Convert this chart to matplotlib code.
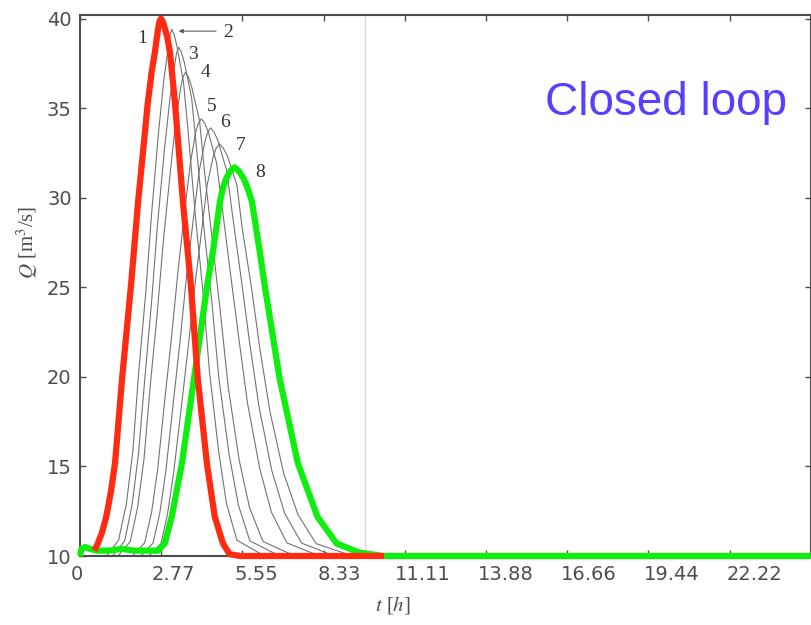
import matplotlib
matplotlib.use('Agg')
import matplotlib.pyplot as plt
from matplotlib.transforms import ScaledTranslation, blended_transform_factory

# Red: curve 1, green: curve 8
t_red = [0.49, 0.61, 0.75, 0.90, 1.06, 1.20, 1.44, 1.75, 1.99, 2.32, 2.45, 2.56, 2.67, 2.72, 2.77,
         2.83, 2.88, 2.98, 3.08, 3.25, 3.52, 3.79, 4.03, 4.34, 4.61, 4.89, 5.12, 5.48, 10.4]
q_red = [10.3, 10.7, 11.3, 12.2, 13.6, 15.2, 19.9, 25.2, 29.8, 35.3, 37.0, 38.1, 39.4, 39.85, 40.0,
         39.85, 39.6, 39.0, 38.1, 35.3, 29.8, 25.2, 19.9, 15.2, 12.2, 10.7, 10.1, 10.0, 10.0]

t_green = [0, 0.05, 0.18, 0.33, 0.59, 1.01, 1.43, 1.84, 2.26, 2.67, 2.90, 3.14, 3.49, 3.90, 4.36,
           4.55, 4.79, 4.90, 5.01, 5.15, 5.29, 5.43, 5.59, 5.72, 5.88, 6.15, 6.31, 6.83, 7.45, 8.12,
           8.78, 9.54, 10.37, 25]
q_green = [10.0, 10.4, 10.5, 10.4, 10.3, 10.3, 10.4, 10.3, 10.3, 10.3, 10.7, 12.2, 15.2, 19.9, 25.2,
           27.0, 29.8, 30.6, 31.1, 31.5, 31.7, 31.5, 31.1, 30.6, 29.8, 27.0, 25.2, 19.9, 15.2, 12.2,
           10.7, 10.2, 10.0, 10.0]

# Gray curves 2..7
t_c2 = [0, 0.91, 1.32, 1.59, 1.81, 2.01, 2.25, 2.45, 2.68, 2.86, 3.03, 3.08, 3.14, 3.22, 3.31, 3.54,
        3.71, 3.94, 4.21, 4.43, 4.74, 5.01, 5.37, 6.31, 25]
q_c2 = [10.0, 10.0, 10.88, 12.94, 15.88, 20.29, 24.7, 29.11, 33.52, 36.46, 38.52, 39.11, 39.4, 39.11,
        38.52, 36.46, 33.52, 29.11, 24.7, 20.29, 15.88, 12.94, 10.88, 10.0, 10.0]
t_c3 = [0, 1.11, 1.53, 1.78, 2.00, 2.22, 2.45, 2.65, 2.89, 3.08, 3.25, 3.31, 3.38, 3.47, 3.57, 3.82,
        3.99, 4.23, 4.51, 4.75, 5.10, 5.42, 5.81, 6.83, 25]
q_c3 = [10.0, 10.0, 10.85, 12.84, 15.68, 19.94, 24.2, 28.46, 32.72, 35.56, 37.55, 38.12, 38.4, 38.12,
        37.55, 35.56, 32.72, 28.46, 24.2, 19.94, 15.68, 12.84, 10.85, 10.0, 10.0]
t_c4 = [0, 1.30, 1.72, 1.97, 2.19, 2.40, 2.64, 2.85, 3.10, 3.28, 3.45, 3.52, 3.61, 3.71, 3.82, 4.09,
        4.25, 4.53, 4.81, 5.07, 5.44, 5.80, 6.26, 7.35, 25]
q_c4 = [10.0, 10.0, 10.81, 12.7, 15.4, 19.45, 23.5, 27.55, 31.6, 34.3, 36.19, 36.73, 37.0, 36.73,
        36.19, 34.3, 31.6, 27.55, 23.5, 19.45, 15.4, 12.7, 10.81, 10.0, 10.0]
t_c5 = [0, 1.79, 2.21, 2.45, 2.66, 2.89, 3.13, 3.35, 3.60, 3.78, 3.96, 4.05, 4.15, 4.27, 4.39, 4.67,
        4.86, 5.14, 5.43, 5.73, 6.15, 6.55, 7.08, 8.19, 25]
q_c5 = [10.0, 10.0, 10.73, 12.44, 14.88, 18.54, 22.2, 25.86, 29.52, 31.96, 33.67, 34.16, 34.4, 34.16,
        33.67, 31.96, 29.52, 25.86, 22.2, 18.54, 14.88, 12.44, 10.73, 10.0, 10.0]
t_c6 = [0, 2.08, 2.50, 2.73, 2.94, 3.18, 3.42, 3.64, 3.90, 4.08, 4.28, 4.37, 4.47, 4.59, 4.72, 5.02,
        5.21, 5.51, 5.80, 6.12, 6.56, 7.00, 7.58, 8.71, 25]
q_c6 = [10.0, 10.0, 10.72, 12.39, 14.78, 18.37, 21.95, 25.54, 29.12, 31.51, 33.18, 33.66, 33.9, 33.66,
        33.18, 31.51, 29.12, 25.54, 21.95, 18.37, 14.78, 12.39, 10.72, 10.0, 10.0]
t_c7 = [0, 2.35, 2.77, 2.99, 3.20, 3.45, 3.69, 3.92, 4.18, 4.35, 4.56, 4.66, 4.77, 4.90, 5.05, 5.37,
        5.54, 5.87, 6.16, 6.50, 6.97, 7.46, 8.08, 9.33, 25]
q_c7 = [10.0, 10.0, 10.69, 12.3, 14.6, 18.05, 21.5, 24.95, 28.4, 30.7, 32.31, 32.77, 33.0, 32.77,
        32.31, 30.7, 28.4, 24.95, 21.5, 18.05, 14.6, 12.3, 10.69, 10.0, 10.0]

# Curve number labels
label_text = ['1', '2', '3', '4', '5', '6', '7', '8']
label_t = [2.12, 5.05, 3.85, 4.30, 4.52, 4.95, 5.50, 6.15]
label_q = [38.9, 39.2, 38.0, 37.0, 35.1, 34.2, 32.9, 31.4]

xtick_vals = [0, 25 / 9, 50 / 9, 75 / 9, 100 / 9, 125 / 9, 150 / 9, 175 / 9, 200 / 9, 25]
xtick_labels = ['0', '2.77', '5.55', '8.33', '11.11', '13.88', '16.66', '19.44', '22.22', '']
ytick_vals = [10, 15, 20, 25, 30, 35, 40]

plt.rcParams['mathtext.fontset'] = 'stix'
fig = plt.figure(figsize=(8.12, 6.25), dpi=100)
ax = fig.add_axes([0.0985, 0.1104, 0.90, 0.8656])

for t, q in [(t_c2, q_c2), (t_c3, q_c3), (t_c4, q_c4), (t_c5, q_c5), (t_c6, q_c6), (t_c7, q_c7)]:
    ax.plot(t, q, color='0.45', lw=0.8, zorder=2)

ax.axvline(9.75, color='0.85', lw=1.0, zorder=1)
ax.plot(t_green, q_green, color='#10ee10', lw=4.5, zorder=3, clip_on=False, solid_capstyle='butt')
ax.plot(t_red, q_red, color='#ff2a12', lw=4.5, zorder=4, clip_on=False, solid_capstyle='butt')

for s, x, y in zip(label_text, label_t, label_q):
    ax.text(x, y, s, fontsize=14, family='Liberation Serif', color='0.2', ha='center', va='center')
ax.annotate('', xy=(3.28, 39.3), xytext=(4.75, 39.3),
            arrowprops=dict(arrowstyle='-|>', color='0.35', lw=0.8, mutation_scale=6))

ax.set_xlim(0, 25)
ax.set_ylim(10, 40.2)
ax.set_xticks(xtick_vals)
ax.set_xticklabels([])
ax.set_yticks(ytick_vals)
ax.tick_params(direction='in', length=4, width=1, colors='0.3', labelsize=14,
               top=True, right=True, pad=6)
for lab in ax.get_yticklabels():
    lab.set_family('DejaVu Sans')

# x tick labels drift right of their ticks in the original
xtrans = blended_transform_factory(ax.transData, ax.transAxes)
for k, (v, s) in enumerate(zip(xtick_vals, xtick_labels)):
    dx = -0.03 if k == 0 else (12 + 1.9 * (k - 1)) / 100
    ax.text(v, 0, s, transform=xtrans + ScaledTranslation(dx, -0.09, fig.dpi_scale_trans),
            fontsize=14, family='DejaVu Sans', color='0.3', ha='center', va='top')

for sp in ax.spines.values():
    sp.set_color('0.3')
    sp.set_linewidth(1.5)

fig.text(0.034, 0.613, r'$Q$ [m$^3$/s]', rotation=90, fontsize=15, family='Liberation Serif',
         color='0.3', ha='center', va='center')
fig.text(0.484, 0.032, r'$t$ [$h$]', fontsize=15, family='Liberation Serif',
         color='0.3', ha='center', va='center')
fig.text(0.671, 0.816, 'Closed loop', fontsize=33, family='Liberation Sans', color='#5540ff',
         ha='left', va='baseline')

fig.savefig('out.png', dpi=100)
